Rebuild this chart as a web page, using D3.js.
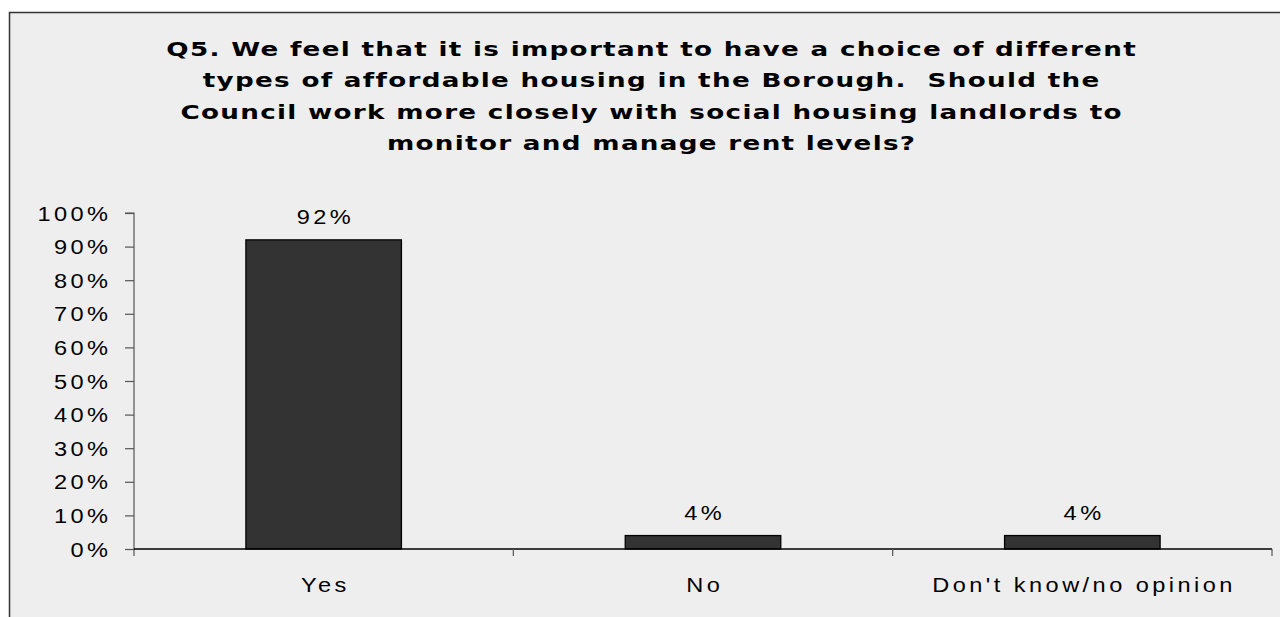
<!DOCTYPE html>
<html>
<head>
<meta charset="utf-8">
<script src="https://cdn.jsdelivr.net/npm/d3@7"></script>
<style>
  html, body { margin: 0; padding: 0; background: #ffffff; }
  svg { display: block; }
  text { white-space: pre; }
</style>
</head>
<body>
<svg id="chart" width="1280" height="617"></svg>
<script>
const categories = ["Yes", "No", "Don't know/no opinion"];
const values = [0.92, 0.04, 0.04];
const valueLabels = ["92%", "4%", "4%"];
const yTicks = [0, 0.1, 0.2, 0.3, 0.4, 0.5, 0.6, 0.7, 0.8, 0.9, 1.0];
const titleLines = [
  "Q5. We feel that it is important to have a choice of different",
  "types of affordable housing in the Borough.  Should the",
  "Council work more closely with social housing landlords to",
  "monitor and manage rent levels?"
];

const svg = d3.select("#chart");
const W = 1280, H = 617;

// panel background
svg.append("rect").attr("x", 9.5).attr("y", 12.5).attr("width", W).attr("height", H)
  .attr("fill", "#eeeeee").attr("stroke", "#333333").attr("stroke-width", 1.5);

const plot = { left: 134, right: 1272, top: 213, bottom: 549 };

const x = d3.scaleBand().domain(categories).range([plot.left, plot.right])
  .paddingInner(0.59).paddingOuter(0.295);
const y = d3.scaleLinear().domain([0, 1]).range([plot.bottom, plot.top]);

// title (horizontally stretched like the original)
const TS = 1.31, TL = 1;
const title = svg.append("g").attr("transform", `translate(${651 + TL * TS / 2},0) scale(${TS},1)`)
  .append("text").attr("text-anchor", "middle")
  .attr("font-family", "DejaVu Sans").attr("font-weight", "bold")
  .attr("font-size", 20).attr("letter-spacing", TL).attr("fill", "#000");
titleLines.forEach((l, i) => {
  title.append("tspan").attr("x", 0).attr("y", 56 + i * 31.3).text(l);
});

const txtFont = "Liberation Sans, Arial, sans-serif";
const S = 1.15, L = 3, FS = 20.5;

function label(parent, px, py, anchor, str) {
  let shift = 0;
  if (anchor === "middle") shift = L * S / 2;
  if (anchor === "end") shift = L * S;
  parent.append("g").attr("transform", `translate(${px + shift},${py}) scale(${S},1)`)
    .append("text").attr("text-anchor", anchor)
    .attr("font-family", txtFont).attr("font-size", FS)
    .attr("letter-spacing", L).attr("fill", "#000").text(str);
}

// y axis
const yAxis = d3.axisLeft(y).tickValues(yTicks).tickSize(9).tickFormat("");
const gy = svg.append("g").attr("transform", `translate(${plot.left},0)`).call(yAxis);
gy.select(".domain").attr("stroke", "#555555").attr("stroke-width", 1.2)
  .attr("d", `M-9,${plot.top}H0V${plot.bottom + 7}`);
gy.selectAll(".tick line").attr("stroke", "#555555").attr("stroke-width", 1.2);
const gyl = svg.append("g");
yTicks.forEach(t => label(gyl, 108, y(t) + 7.5, "end", Math.round(t * 100) + "%"));

// bars
svg.append("g").selectAll("rect").data(values).join("rect")
  .attr("x", (d, i) => x(categories[i]))
  .attr("y", d => y(d))
  .attr("width", x.bandwidth())
  .attr("height", d => y(0) - y(d))
  .attr("fill", "#333333").attr("stroke", "#000").attr("stroke-width", 1.3);

// x axis
const bandStep = x.step();
const boundaries = d3.range(1, categories.length + 1).map(i => plot.left + i * bandStep);
svg.append("line").attr("x1", plot.left).attr("x2", plot.right)
  .attr("y1", y(0)).attr("y2", y(0)).attr("stroke", "#000").attr("stroke-width", 1.3);
svg.append("g").selectAll("line").data(boundaries).join("line")
  .attr("x1", d => d).attr("x2", d => d)
  .attr("y1", y(0)).attr("y2", y(0) + 7)
  .attr("stroke", "#555555").attr("stroke-width", 1.2);

// category labels
const gx = svg.append("g");
categories.forEach(c => label(gx, x(c) + x.bandwidth() / 2, 592, "middle", c));

// value labels
const gv = svg.append("g");
values.forEach((v, i) => label(gv, x(categories[i]) + x.bandwidth() / 2, y(v) - 16, "middle", valueLabels[i]));
</script>
</body>
</html>
